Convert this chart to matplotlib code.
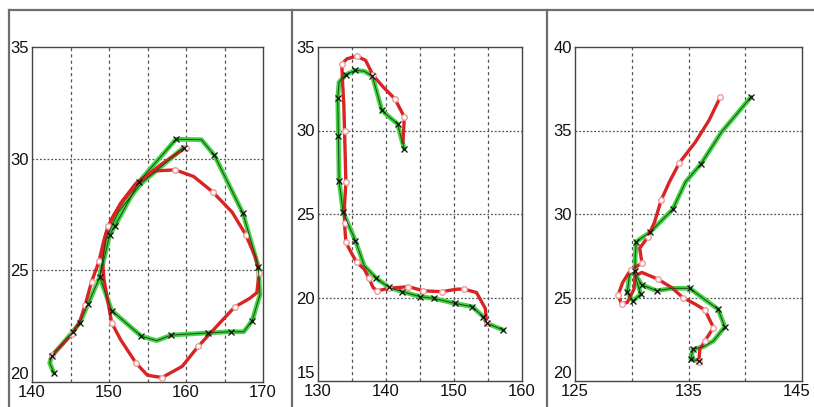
import matplotlib.pyplot as plt
from matplotlib.lines import Line2D
from matplotlib.transforms import ScaledTranslation

plt.rcParams['font.family'] = ['Liberation Sans', 'DejaVu Sans']

# panel 1
red1_x = [142.6, 144.0, 145.2, 146.2, 146.9, 147.75, 148.7, 149.3, 149.9, 151.5, 153.5, 156.0, 158.6, 161.0,
          163.5, 166.0, 167.75, 169.0, 169.5, 169.2, 168.3, 166.3, 164.0, 161.6, 159.5, 156.9, 155.0, 153.5,
          151.5, 150.35, 149.8, 149.35, 149.1, 149.6, 150.5, 152.0, 154.0, 157.0, 160.0]
red1_y = [21.2, 21.7, 22.15, 22.7, 23.45, 24.5, 25.4, 26.3, 27.0, 28.0, 28.9, 29.45, 29.5, 29.2,
          28.5, 27.6, 26.6, 25.6, 24.9, 24.0, 23.75, 23.35, 22.5, 21.6, 20.7, 20.2, 20.3, 20.85,
          21.9, 22.65, 23.7, 24.6, 25.6, 26.6, 27.4, 28.2, 29.0, 29.8, 30.5]
red1_mk = [0, 2, 4, 5, 6, 8, 12, 14, 16, 18, 21, 23, 25, 27, 29, 38]

green1_x = [142.85, 142.3, 142.55, 145.3, 146.2, 147.3, 148.8, 150.1, 150.8, 153.9, 158.7, 162.0, 163.7, 167.4,
            169.4, 169.6, 168.6, 167.5, 165.8, 162.9, 158.1, 156.2, 154.2, 150.35, 148.8, 149.6, 151.2, 154.2,
            159.7]
green1_y = [20.4, 20.85, 21.15, 22.25, 22.65, 23.5, 24.7, 26.6, 27.0, 28.97, 30.87, 30.85, 30.15, 27.55,
            25.15, 23.9, 22.75, 22.25, 22.25, 22.2, 22.1, 21.85, 22.05, 23.2, 24.7, 26.4, 27.6, 28.9,
            30.5]
green1_mk = [0, 2, 3, 4, 5, 6, 7, 8, 9, 10, 12, 13, 14, 16, 18, 19, 20, 22, 23, 28]

# panel 2
red2_x = [142.5, 142.7, 141.3, 139.6, 138.1, 137.0, 135.7, 134.3, 133.5, 133.6, 133.8, 133.9, 134.0, 134.1,
          133.9, 133.9, 134.1, 135.0, 135.7, 136.8, 137.5, 138.1, 138.7, 140.4, 143.3, 145.5, 148.2, 150.5,
          151.5, 153.3, 154.6, 154.8]
red2_y = [29.3, 30.8, 31.9, 32.6, 33.3, 34.2, 34.45, 34.3, 34.0, 33.0, 31.5, 30.0, 28.5, 26.9,
          25.5, 24.45, 23.3, 22.6, 22.1, 21.7, 21.15, 20.6, 20.4, 20.55, 20.65, 20.4, 20.35, 20.5,
          20.5, 20.3, 19.35, 18.45]
red2_mk = [1, 2, 4, 6, 8, 11, 13, 15, 16, 18, 20, 22, 23, 24, 25, 26, 28, 31]

green2_x = [142.7, 142.2, 141.7, 140.5, 139.4, 138.0, 136.8, 135.5, 134.1, 133.1, 132.9, 133.0, 133.1, 133.7,
            135.5, 136.8, 138.6, 140.45, 142.4, 145.0, 147.0, 150.1, 152.7, 154.3, 154.9, 157.25]
green2_y = [28.9, 29.6, 30.4, 30.8, 31.2, 33.26, 33.55, 33.6, 33.35, 32.9, 31.96, 29.7, 27.0, 25.1,
            23.4, 21.9, 21.15, 20.6, 20.35, 20.05, 19.95, 19.65, 19.45, 18.85, 18.45, 18.05]
green2_mk = [0, 2, 4, 5, 7, 8, 10, 11, 12, 13, 14, 16, 17, 18, 19, 20, 21, 22, 23, 24, 25]

# panel 3
red3_x = [137.8, 136.8, 135.6, 134.2, 133.3, 132.6, 132.0, 131.4, 130.7, 130.9, 129.9, 129.2, 128.8, 129.1,
          129.6, 130.2, 130.3, 130.9, 132.3, 133.5, 134.5, 135.6, 136.45, 137.2, 136.45, 136.0, 135.9]
red3_y = [37.0, 35.6, 34.3, 33.07, 31.9, 30.84, 29.5, 28.6, 27.95, 27.05, 26.65, 25.9, 25.15, 24.6,
          24.7, 25.5, 26.3, 26.5, 26.1, 25.6, 25.0, 24.6, 24.25, 23.2, 22.4, 21.9, 21.15]
red3_mk = [0, 3, 5, 7, 9, 10, 12, 13, 18, 20, 22, 23, 24, 26]

green3_x = [140.5, 137.9, 136.1, 134.75, 133.6, 131.6, 130.4, 130.3, 130.3, 129.8, 129.6, 130.1, 130.8, 130.2,
            130.9, 132.2, 133.5, 135.1, 137.6, 138.2, 137.2, 136.3, 135.4, 135.2, 135.9]
green3_y = [37.0, 34.9, 33.0, 31.93, 30.27, 28.9, 28.35, 27.4, 26.6, 26.35, 25.3, 24.8, 25.2, 26.5,
            25.75, 25.4, 25.55, 25.55, 24.3, 23.25, 22.4, 22.05, 21.9, 21.3, 21.2]
green3_mk = [0, 2, 4, 5, 6, 8, 10, 11, 12, 14, 15, 17, 18, 19, 22, 23, 24]

panels = [
    dict(rect=[32/814, 25/407, 231/814, 335/407], xlim=(140, 170), ylim=(20, 35),
         xt=[140, 150, 160, 170], yt=[20, 25, 30, 35], xg=[145, 150, 155, 160, 165], yg=[25, 30],
         red=(red1_x, red1_y, red1_mk), green=(green1_x, green1_y, green1_mk)),
    dict(rect=[318/814, 26/407, 204/814, 334/407], xlim=(130, 160), ylim=(15, 35),
         xt=[130, 140, 150, 160], yt=[15, 20, 25, 30, 35], xg=[135, 140, 145, 150, 155], yg=[20, 25, 30],
         red=(red2_x, red2_y, red2_mk), green=(green2_x, green2_y, green2_mk)),
    dict(rect=[575/814, 26/407, 227/814, 334/407], xlim=(125, 145), ylim=(20, 40),
         xt=[125, 135, 145], yt=[20, 25, 30, 35, 40], xg=[130, 135, 140], yg=[25, 30, 35],
         red=(red3_x, red3_y, red3_mk), green=(green3_x, green3_y, green3_mk)),
]


def draw_panel(fig, p):
    ax = fig.add_axes(p['rect'])
    ax.set_xlim(*p['xlim'])
    ax.set_ylim(*p['ylim'])
    for x in p['xg']:
        ax.axvline(x, color='#555555', lw=0.9, ls=(0, (2.5, 2.5)), zorder=1)
    for y in p['yg']:
        ax.axhline(y, color='#555555', lw=0.9, ls=(0, (1.5, 1.5)), zorder=1)
    gx, gy, gm = p['green']
    rx, ry, rm = p['red']
    ax.plot(gx, gy, color='#44d444', lw=3.4, solid_capstyle='round', zorder=2)
    ax.plot(rx, ry, color='#d82424', lw=2.4, marker='o', markevery=rm, ms=4,
            mfc='white', mec='#f09a9a', mew=1, zorder=3)
    ax.plot(gx, gy, color='#1a4a1a', lw=0.7, marker='x', markevery=gm, ms=5,
            mec='#101010', mew=0.9, zorder=4)
    ax.set_xticks(p['xt'])
    ax.set_yticks(p['yt'])
    ax.tick_params(length=0, labelsize=12, pad=2, labelcolor='#111111')
    for s in ax.spines.values():
        s.set_color('#444444')
        s.set_linewidth(1)
    # lowest y label sits on the axis bottom like the original
    ax.get_yticklabels()[0].set_verticalalignment('bottom')
    return ax


fig = plt.figure(figsize=(8.14, 4.07), dpi=100)
axes = [draw_panel(fig, p) for p in panels]

# last x label of the right panel is nudged left to stay inside the image
lab = axes[2].get_xticklabels()[-1]
lab.set_transform(lab.get_transform() + ScaledTranslation(-5/100, 0, fig.dpi_scale_trans))

# outer frame lines
frame = dict(color='#6e6e6e', lw=1.6, transform=fig.transFigure)
fig.add_artist(Line2D([9/814, 1], [1 - 10/407, 1 - 10/407], **frame))
fig.add_artist(Line2D([9/814, 9/814], [0, 1 - 10/407], **frame))
fig.add_artist(Line2D([292/814, 292/814], [0, 1 - 10/407], **frame))
fig.add_artist(Line2D([547/814, 547/814], [0, 1 - 10/407], **frame))

fig.savefig('out.png', dpi=100)
